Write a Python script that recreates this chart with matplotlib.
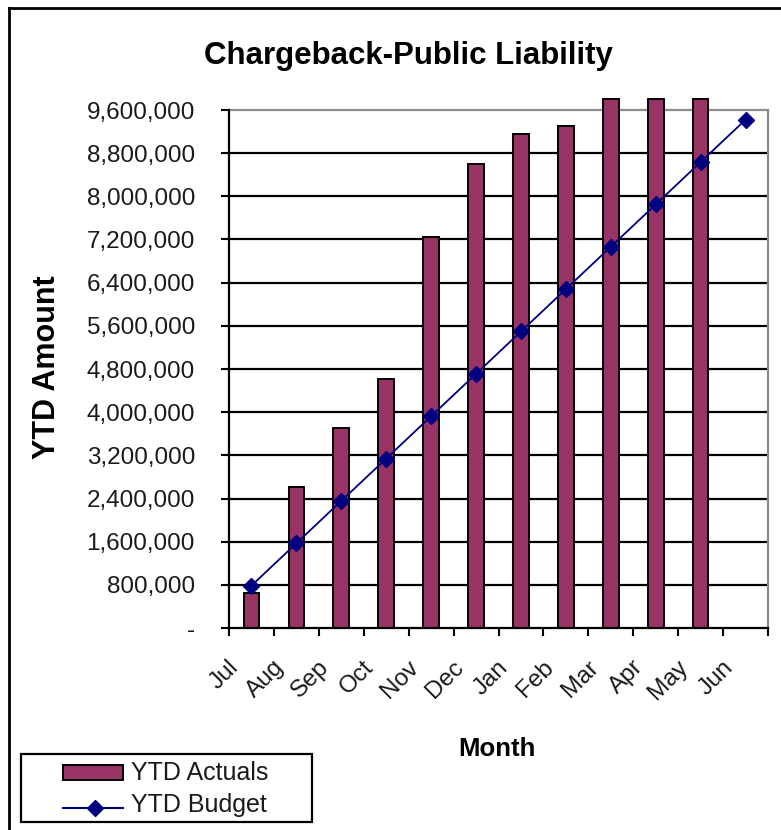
import matplotlib
matplotlib.use("Agg")
import matplotlib.pyplot as plt
import matplotlib.transforms as mtransforms
from matplotlib.lines import Line2D
from matplotlib.patches import Rectangle

# ── Data ───────────────────────────────────────────────────────────────────
months = ["Jul", "Aug", "Sep", "Oct", "Nov", "Dec",
          "Jan", "Feb", "Mar", "Apr", "May", "Jun"]
ytd_actuals = [650_000, 2_610_000, 3_700_000, 4_620_000, 7_250_000, 8_590_000,
               9_150_000, 9_310_000, 9_800_000, 9_800_000, 9_800_000]
ytd_budget = [785_000, 1_570_000, 2_355_000, 3_140_000, 3_925_000, 4_710_000,
              5_495_000, 6_280_000, 7_065_000, 7_850_000, 8_635_000, 9_420_000]
y_ticks = [0, 800_000, 1_600_000, 2_400_000, 3_200_000, 4_000_000, 4_800_000,
           5_600_000, 6_400_000, 7_200_000, 8_000_000, 8_800_000, 9_600_000]
y_tick_labels = ["-", "800,000", "1,600,000", "2,400,000", "3,200,000",
                 "4,000,000", "4,800,000", "5,600,000", "6,400,000",
                 "7,200,000", "8,000,000", "8,800,000", "9,600,000"]
series_names = ["YTD Actuals", "YTD Budget"]

BAR_COLOR = "#993366"
LINE_COLOR = "#000080"

plt.rcParams["font.family"] = ["Liberation Sans", "DejaVu Sans"]

W, H = 781, 830
fig = plt.figure(figsize=(W / 100, H / 100), dpi=100)


def px(x, y):
    """pixel position (from top-left) -> figure fraction"""
    return x / W, 1 - y / H


ax = fig.add_axes([229 / W, 1 - 628 / H, (768 - 229) / W, (628 - 110) / H])

x = list(range(len(months)))

# gridlines underneath the bars
for t in y_ticks[1:-1]:
    ax.axhline(t, color="black", lw=1.6, zorder=1)

ax.bar(x[:len(ytd_actuals)], ytd_actuals, width=0.35, color=BAR_COLOR,
       edgecolor="black", linewidth=1.4, zorder=2, clip_on=False)
ax.plot(x, ytd_budget, color=LINE_COLOR, lw=1.3, marker="D", markersize=8,
        markerfacecolor=LINE_COLOR, markeredgecolor=LINE_COLOR, zorder=3,
        clip_on=False)

ax.set_xlim(-0.5, len(months) - 0.5)
ax.set_ylim(0, 9_600_000)

# black axes, grey plot-area border
for side in ("top", "right"):
    ax.spines[side].set_color("#8c8c8c")
    ax.spines[side].set_linewidth(1.6)
for side in ("left", "bottom"):
    ax.spines[side].set_color("black")
    ax.spines[side].set_linewidth(1.6)
ax.spines["top"].set_zorder(1.5)

ax.set_yticks(y_ticks)
ax.set_yticklabels(y_tick_labels, fontsize=17.5, color="#1a1a1a")
ax.tick_params(axis="y", direction="out", length=6, width=1.5, pad=18.5)

# x ticks at category boundaries, labels at centres
ax.set_xticks([i - 0.5 for i in range(len(months) + 1)])
ax.set_xticklabels([])
ax.tick_params(axis="x", which="major", direction="out", length=6, width=1.5)
ax.set_xticks(x, minor=True)
ax.set_xticklabels(months, minor=True, rotation=45, ha="right", va="center",
                   rotation_mode="anchor", fontsize=17.5, color="#1a1a1a")
ax.tick_params(axis="x", which="minor", length=0, pad=26)
shift = mtransforms.ScaledTranslation(-16 / 100, 0, fig.dpi_scale_trans)
for lbl in ax.xaxis.get_minorticklabels():
    lbl.set_transform(lbl.get_transform() + shift)

fig.text(*px(408, 56), "Chargeback-Public Liability", ha="center",
         va="center", fontsize=22.5, fontweight="bold")
fig.text(*px(47, 367), "YTD Amount", ha="center", va="center",
         rotation=90, fontsize=22, fontweight="bold")
fig.text(*px(497, 749), "Month", ha="center", va="center",
         fontsize=18.5, fontweight="bold")

# legend, drawn in the Excel layout
fig.add_artist(Rectangle(px(21, 822), 291 / W, 68 / H, facecolor="white",
                         edgecolor="black", lw=1.6,
                         transform=fig.transFigure))
fig.add_artist(Rectangle(px(63, 780), 60 / W, 15 / H, facecolor=BAR_COLOR,
                         edgecolor="black", lw=1.4,
                         transform=fig.transFigure))
fig.add_artist(Line2D([63 / W, 123 / W], [1 - 808 / H] * 2, color=LINE_COLOR,
                      lw=1.5, transform=fig.transFigure))
fig.add_artist(Line2D([95 / W], [1 - 808 / H], color=LINE_COLOR, marker="D",
                      markersize=8, transform=fig.transFigure))
fig.text(*px(131, 780), series_names[0], ha="left", va="baseline",
         fontsize=18, color="#1a1a1a")
fig.text(*px(131, 812), series_names[1], ha="left", va="baseline",
         fontsize=18, color="#1a1a1a")

# outer chart border (cropped on right and bottom)
fig.add_artist(Line2D([9 / W, 1], [1 - 8 / H] * 2, color="black",
                      lw=2, transform=fig.transFigure))
fig.add_artist(Line2D([9 / W, 9 / W], [0, 1 - 8 / H], color="black",
                      lw=2, transform=fig.transFigure))

fig.savefig("out.png", dpi=100)
